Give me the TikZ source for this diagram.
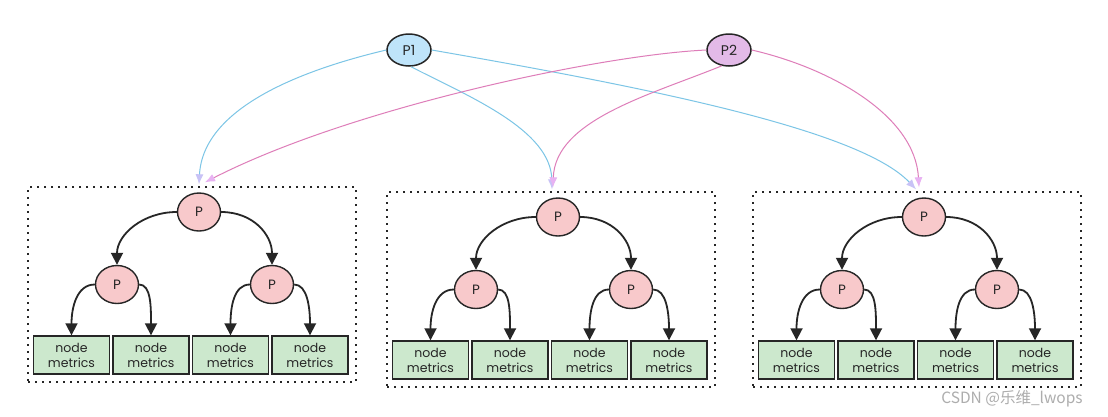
\documentclass[tikz,border=0pt]{standalone}
\usepackage{fontspec}
\setmainfont{Poppins}
\newfontfamily\cjkfont{Noto Sans CJK SC}
\usetikzlibrary{shapes.geometric,arrows.meta}
\definecolor{pfill}{HTML}{F8C9CB}
\definecolor{gfill}{HTML}{CCE8CD}
\definecolor{bfill}{HTML}{BFE4FA}
\definecolor{vfill}{HTML}{E3BAE8}
\definecolor{bline}{HTML}{7CC5E6}
\definecolor{pline}{HTML}{DE7DB9}
\definecolor{ptip}{HTML}{E8B2F2}
\definecolor{btip}{HTML}{C8C2F6}
\definecolor{ink}{HTML}{262626}
\tikzset{
  dotbox/.style={draw=ink, line width=2.4pt, dash pattern=on 2.4pt off 4.6pt,
    minimum width=328pt, minimum height=195pt, inner sep=0pt},
  pnode/.style={ellipse, draw=ink, line width=1.4pt, fill=pfill, inner sep=0pt,
    minimum width=43pt, minimum height=38pt, text=ink, font=\fontsize{13.5}{15}\selectfont},
  topnode/.style={ellipse, draw=ink, line width=1.5pt, inner sep=0pt,
    minimum width=44pt, minimum height=32pt, text=ink, font=\fontsize{14}{16}\selectfont},
  mbox/.style={rectangle, draw=ink, line width=1.4pt, fill=gfill, inner sep=0pt,
    minimum width=76pt, minimum height=38pt, align=center, text=ink,
    font=\fontsize{12.5}{15}\selectfont},
  tedge/.style={draw=ink, line width=1.8pt, -{Triangle[length=12pt,width=12pt]}},
  bcon/.style={draw=bline, line width=1pt, -{Latex[length=10pt,width=8pt,color=btip]}},
  pcon/.style={draw=pline, line width=1pt, -{Latex[length=10pt,width=8pt,color=ptip]}},
}
\newcommand\drawtree[3]{%
  \node[dotbox] (#1box) at (#2+164,#3+97.5) {};
  \node[pnode] (#1r) at (#2+171,#3+25) {P};
  \node[pnode] (#1a) at (#2+89,#3+97.5) {P};
  \node[pnode] (#1b) at (#2+244,#3+97.5) {P};
  \node[mbox] (#1m1) at (#2+43.5,#3+168) {node\\metrics};
  \node[mbox] (#1m2) at (#2+123,#3+168) {node\\metrics};
  \node[mbox] (#1m3) at (#2+202.5,#3+168) {node\\metrics};
  \node[mbox] (#1m4) at (#2+282,#3+168) {node\\metrics};
  \draw[tedge] (#1r.west) .. controls +(-34,0) and +(0,-30) .. (#1a.north);
  \draw[tedge] (#1r.east) .. controls +(32,0) and +(0,-30) .. (#1b.north);
  \draw[tedge] (#1a.west) .. controls +(-18,0) and +(0,-28) .. (#1m1.north);
  \draw[tedge] (#1a.east) .. controls +(12,0) and +(0,-28) .. (#1m2.north);
  \draw[tedge] (#1b.west) .. controls +(-16,0) and +(0,-28) .. (#1m3.north);
  \draw[tedge] (#1b.east) .. controls +(13,0) and +(0,-28) .. (#1m4.north);
}
\begin{document}
\begin{tikzpicture}[x=1pt,y=-1pt]
  \fill[white] (0,0) rectangle (1108,416);
  \useasboundingbox (0,0) rectangle (1108,416);
  \drawtree{L}{28}{187}
  \drawtree{M}{387}{192}
  \drawtree{R}{753}{192}
  \node[topnode, fill=bfill] (p1) at (409,50) {P1};
  \node[topnode, fill=vfill] (p2) at (729,50) {P2};
  % P1 connectors
  \draw[bcon] (p1.west) .. controls (310,68) and (203,105) .. ([shift={(0,-8)}]Lr.north);
  \draw[bcon] ([shift={(2,0)}]p1.south) .. controls (470,97) and (551,130) .. ([shift={(-6,-8)}]Mr.north);
  \draw[bcon] (p1.east) .. controls (650,88) and (860,130) .. ([shift={(-8,-8)}]Rr.north);
  % P2 connectors
  \draw[pcon] (p2.west) .. controls (600,55) and (350,108) .. ([shift={(6,-10)}]Lr.north);
  \draw[pcon] ([shift={(-7,-1)}]p2.south) .. controls (650,95) and (555,120) .. ([shift={(-5,-10)}]Mr.north);
  \draw[pcon] (p2.east) .. controls (830,68) and (915,115) .. ([shift={(-5,-10)}]Rr.north);
  \node[font=\cjkfont\fontsize{15.5}{17}\selectfont, text=black!32] (wm) at (1012,399) {CSDN @乐维\_lwops};
\end{tikzpicture}
\end{document}
